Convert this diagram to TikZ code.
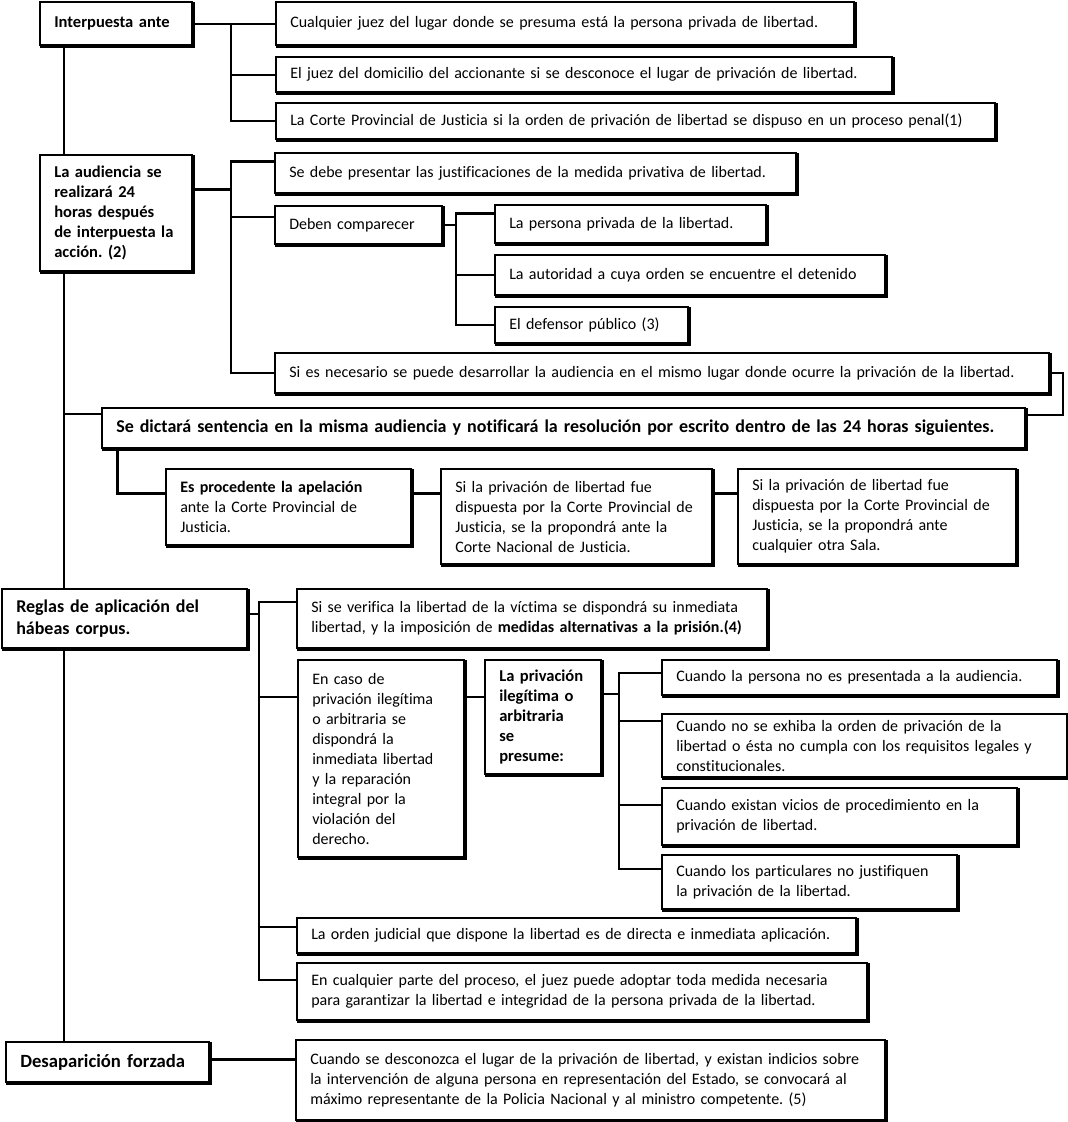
\documentclass[tikz,border=0pt]{standalone}
\usepackage{fontspec}
\setmainfont{Carlito}[Ligatures=NoCommon]
\usetikzlibrary{calc}
\frenchspacing
\newcommand\bx[7][]{%
  \pgfmathsetmacro\bxw{(#5-#3)*0.75}%
  \pgfmathsetmacro\bxh{(#6-#4)*0.75}%
  \node[box,anchor=north west,minimum width=\bxw pt,minimum height=\bxh pt] (#2) at (#3,#4) {};%
  \node[txt,#1,anchor=west,text width=\bxw pt] (#2-t) at ([xshift=11.25pt]#2.west) {#7};%
}
\tikzset{
  box/.style={draw, line width=1.5pt, inner sep=0pt},
  txt/.style={inner sep=0pt, align=left, font=\fontsize{12}{15}\selectfont\frenchspacing},
  bbox/.style={font=\fontsize{12.4}{15}\selectfont\bfseries\frenchspacing},
  big/.style={font=\fontsize{13.5}{16.5}\selectfont\bfseries\frenchspacing},
  bigger/.style={font=\fontsize{14}{16.5}\selectfont\bfseries\frenchspacing},
  ln/.style={line width=1.5pt},
  lnk/.style={line width=2.25pt}
}
\begin{document}
\begin{tikzpicture}[x=0.75pt,y=-0.75pt]
\fill[white] (0,0) rectangle (1068,1122);
\useasboundingbox (0,0) rectangle (1068,1122);
\coordinate (sp) at (64,0);
\coordinate (b1) at (231,0);
\coordinate (b3) at (456,0);
\coordinate (b4) at (259,0);
\coordinate (b5) at (619,0);
\coordinate (rt) at (1063,0);
\coordinate (ef) at (117,0);

\bx[bbox]{A1}{39}{1}{191}{44}{Interpuesta ante}
\bx{B1}{275}{1}{853}{44}{Cualquier juez del lugar donde se presuma está la persona privada de libertad.}
\bx{B2}{275}{56}{891}{91}{El juez del domicilio del accionante si se desconoce el lugar de privación de libertad.}
\bx{B3}{275}{102}{994}{138}{La Corte Provincial de Justicia si la orden de privación de libertad se dispuso en un proceso penal(1)}
\bx[bbox]{A2}{39}{154}{191}{270}{La audiencia se\\realizará 24\\horas después\\de interpuesta la\\acción. (2)}
\bx{C1}{274}{152}{795}{192}{Se debe presentar las justificaciones de la medida privativa de libertad.}
\bx{C2}{274}{205}{441}{243}{Deben comparecer}
\bx{D1}{494}{204}{765}{242}{La persona privada de la libertad.}
\bx{D2}{494}{254}{884}{294}{La autoridad a cuya orden se encuentre el detenido}
\bx{D3}{494}{306}{687}{342}{El defensor público (3)}
\bx{C3}{274}{352}{1048}{392}{Si es necesario se puede desarrollar la audiencia en el mismo lugar donde ocurre la privación de la libertad.}
\bx[big]{E}{101}{407}{1024}{447}{Se dictará sentencia en la misma audiencia y notificará la resolución por escrito dentro de las 24 horas siguientes.}
\bx{F1}{165}{468}{410}{544}{\textbf{Es procedente la apelación}\\ante la Corte Provincial de\\Justicia.}
\bx{F2}{440}{468}{711}{563}{Si la privación de libertad fue\\dispuesta por la Corte Provincial de\\Justicia, se la propondrá ante la\\Corte Nacional de Justicia.}
\bx{F3}{737}{468}{1015}{563}{Si la privación de libertad fue\\dispuesta por la Corte Provincial de\\Justicia, se la propondrá ante\\cualquier otra Sala.}
\bx[big]{A3}{1}{588}{246}{647}{Reglas de aplicación del\\hábeas corpus.}
\bx{G1}{296}{588}{766}{647}{Si se verifica la libertad de la víctima se dispondrá su inmediata\\libertad, y la imposición de \textbf{medidas alternativas a la prisión.(4)}}
\bx{G2}{297}{659}{463}{856}{En caso de\\privación ilegítima\\o arbitraria se\\dispondrá la\\inmediata libertad\\y la reparación\\integral por la\\violación del\\derecho.}
\bx[bbox]{H}{484}{659}{600}{773}{La privación\\ilegítima o\\arbitraria\\se\\presume:}
\bx{I1}{661}{659}{1056}{694}{Cuando la persona no es presentada a la audiencia.}
\bx{I2}{661}{713}{1066}{776}{Cuando no se exhiba la orden de privación de la\\libertad o ésta no cumpla con los requisitos legales y\\constitucionales.}
\bx{I3}{661}{787}{1016}{844}{Cuando existan vicios de procedimiento en la\\privación de libertad.}
\bx{I4}{661}{854}{956}{908}{Cuando los particulares no justifiquen\\la privación de la libertad.}
\bx{G3}{296}{917}{855}{952}{La orden judicial que dispone la libertad es de directa e inmediata aplicación.}
\bx{G4}{296}{962}{866}{1019}{En cualquier parte del proceso, el juez puede adoptar toda medida necesaria\\para garantizar la libertad e integridad de la persona privada de la libertad.}
\bx[bigger]{A4}{5}{1041}{208}{1081}{Desaparición forzada}
\bx{J}{295}{1039}{884}{1119}{Cuando se desconozca el lugar de la privación de libertad, y existan indicios sobre\\la intervención de alguna persona en representación del Estado, se convocará al\\máximo representante de la Policia Nacional y al ministro competente. (5)}

% heavier bottom/right edges
\foreach \n in {A1,B1,B2,B3,A2,C1,C2,D1,D2,D3,C3,E,F1,F2,F3,A3,G1,G2,H,I1,I2,I3,I4,G3,G4,A4,J}
  \draw[ln] ([shift={(1,1)}]\n.south west) -- ([shift={(1,1)}]\n.south east) -- ([shift={(1,1)}]\n.north east);

% spine
\draw[ln] (A1.south -| sp) -- (A2.north -| sp);
\draw[ln] (A2.south -| sp) -- (A3.north -| sp);
\draw[ln] (A3.south -| sp) -- (A4.north -| sp);

% Interpuesta ante
\draw[ln] (A1.east) -- (A1.east -| b1);
\draw[ln] (B1.west) -- (B1.west -| b1) -- (B3.west -| b1) -- (B3.west);
\draw[ln] (B2.west -| b1) -- (B2.west);

% La audiencia
\draw[lnk] (A2.east |- 0,189) -- (b1 |- 0,189);
\draw[ln] (C1.west |- 0,161) -- (b1 |- 0,161) -- (b1 |- C3.west) -- (C3.west);
\draw[lnk] (b1 |- 0,161) -- (C1.west |- 0,161);
\draw[ln] (b1 |- 0,217) -- (C2.west |- 0,217);
\draw[ln] (C2.east) -- (C2.east -| b3);
\draw[ln] (D1.west |- 0,213) -- (b3 |- 0,213) -- (b3 |- 0,325) -- (D3.west |- 0,325);
\draw[lnk] (b3 |- 0,213) -- (D1.west |- 0,213);
\draw[ln] (b3 |- D2.west) -- (D2.west);
\draw[ln] (C3.east) -- (C3.east -| rt) -- (rt |- 0,415) -- (E.east |- 0,415);

% sentencia
\draw[ln] (sp |- 0,414) -- (E.west |- 0,414);
\draw[lnk] (E.south -| ef) -- (ef |- 0,493) -- (F1.west |- 0,493);
\draw[lnk] (F1.east |- 0,493) -- (F2.west |- 0,493);
\draw[lnk] (F2.east |- 0,493) -- (F3.west |- 0,493);

% Reglas
\draw[ln] (A3.east |- 0,614) -- (b4 |- 0,614);
\draw[ln] (G1.west |- 0,602) -- (b4 |- 0,602) -- (b4 |- 0,980) -- (G4.west |- 0,980);
\draw[ln] (b4 |- 0,697) -- (G2.west |- 0,697);
\draw[ln] (b4 |- 0,927) -- (G3.west |- 0,927);
\draw[ln] (G2.east |- 0,697) -- (H.west |- 0,697);
\draw[ln] (H.east |- 0,694) -- (b5 |- 0,694);
\draw[ln] (I1.west |- 0,673) -- (b5 |- 0,673) -- (b5 |- 0,869) -- (I4.west |- 0,869);
\draw[ln] (b5 |- 0,721) -- (I2.west |- 0,721);
\draw[ln] (b5 |- 0,805) -- (I3.west |- 0,805);

% Desaparicion
\draw[lnk] (A4.east |- 0,1059) -- (J.west |- 0,1059);
\end{tikzpicture}
\end{document}
